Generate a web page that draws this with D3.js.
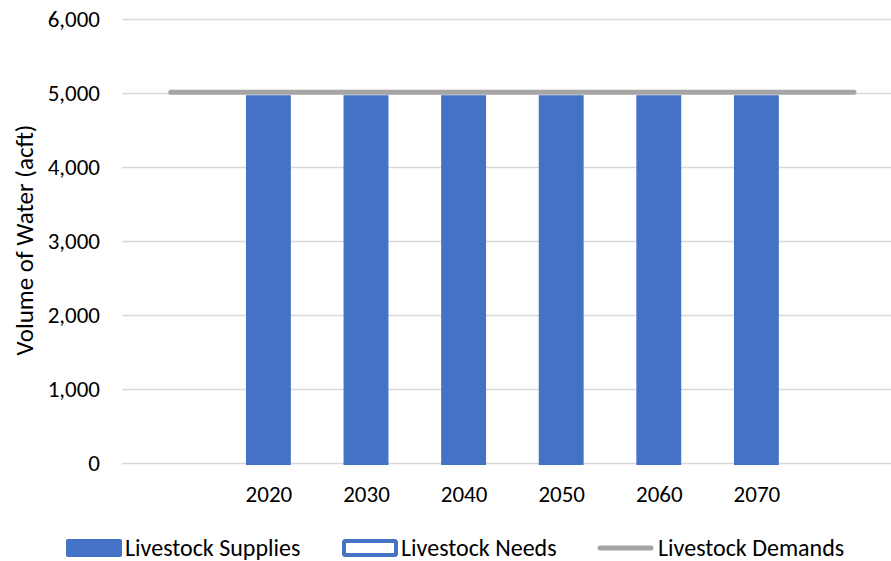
<!DOCTYPE html>
<html>
<head>
<meta charset="utf-8">
<script src="https://cdn.jsdelivr.net/npm/d3@7/dist/d3.min.js"></script>
<style>
  html, body { margin: 0; padding: 0; background: #fff; }
  svg { display: block; font-family: Carlito, Calibri, Lato, "Liberation Sans", sans-serif; }
</style>
</head>
<body>
<svg id="chart" width="891" height="561"></svg>
<script>
// Category slots: the outer two are unlabeled padding slots the demand line spans
const categories = ["pad-start", "2020", "2030", "2040", "2050", "2060", "2070", "pad-end"];
const categoryLabels = ["", "2020", "2030", "2040", "2050", "2060", "2070", ""];
const supplies = [null, 4970, 4970, 4970, 4970, 4970, 4970, null];
const needs = [null, 0, 0, 0, 0, 0, 0, null];
const demands = [5010, 5010, 5010, 5010, 5010, 5010, 5010, 5010];
const yTicks = [0, 1000, 2000, 3000, 4000, 5000, 6000];
const legendItems = ["Livestock Supplies", "Livestock Needs", "Livestock Demands"];

const svg = d3.select("#chart");
const plotLeft = 122, plotTop = 19, plotBottom = 463;
const step = 97.6;
const fontStack = "Carlito, Calibri, Lato, 'Liberation Sans', sans-serif";

const x = d3.scaleBand()
  .domain(categories)
  .range([plotLeft, plotLeft + step * categories.length])
  .paddingInner(0.54)
  .paddingOuter(0.27);

const xc = d3.scalePoint()
  .domain(categories)
  .range([plotLeft + step / 2, plotLeft + step * (categories.length - 0.5)]);

const y = d3.scaleLinear().domain([0, 6000]).range([plotBottom, plotTop]);

// Horizontal gridlines
svg.append("g")
  .selectAll("line")
  .data(yTicks)
  .join("line")
  .attr("x1", plotLeft).attr("x2", 891)
  .attr("y1", d => Math.round(y(d)) + 0.5).attr("y2", d => Math.round(y(d)) + 0.5)
  .attr("stroke", "#D9D9D9").attr("stroke-width", 1.3);

// Y axis tick labels
const yAxis = d3.axisLeft(y).tickValues(yTicks).tickFormat(d3.format(",")).tickSize(0).tickPadding(0);
svg.append("g")
  .attr("transform", `translate(${plotLeft - 22},0)`)
  .call(yAxis)
  .call(g => g.select(".domain").remove())
  .call(g => g.selectAll("text")
    .attr("font-size", 23).attr("fill", "#000")
    .style("font-family", fontStack));

// Y axis title
svg.append("text")
  .attr("transform", `translate(33,240) rotate(-90)`)
  .attr("text-anchor", "middle")
  .attr("font-size", 25)
  .attr("fill", "#000")
  .text("Volume of Water (acft)");

// Supplies bars
const bw = x.bandwidth();
svg.append("g")
  .selectAll("rect")
  .data(categories.map((c, i) => ({ c, v: supplies[i] })).filter(d => d.v != null))
  .join("rect")
  .attr("x", d => x(d.c))
  .attr("y", d => y(d.v))
  .attr("width", bw)
  .attr("height", d => y(0) - y(d.v))
  .attr("fill", "#4472C4");

// Needs bars (stacked on top of supplies, zero height here)
svg.append("g")
  .selectAll("rect")
  .data(categories.map((c, i) => ({ c, v: needs[i] })).filter(d => d.v != null))
  .join("rect")
  .attr("x", d => x(d.c) + 0.5)
  .attr("y", d => y(0) + 0.5)
  .attr("width", bw - 1)
  .attr("height", d => Math.max(y(0) - y(d.v), 1))
  .attr("fill", "#fff")
  .attr("stroke", "#4472C4")
  .attr("stroke-width", 1);

// Demands line
svg.append("path")
  .datum(categories.map((c, i) => ({ c, v: demands[i] })))
  .attr("d", d3.line().x(d => xc(d.c)).y(d => y(d.v)))
  .attr("fill", "none")
  .attr("stroke", "#A5A5A5")
  .attr("stroke-width", 5)
  .attr("stroke-linecap", "round");

// X axis labels
const xAxis = d3.axisBottom(xc).tickFormat((d, i) => categoryLabels[i]).tickSize(0).tickPadding(0);
svg.append("g")
  .attr("transform", `translate(0,${plotBottom + 23})`)
  .call(xAxis)
  .call(g => g.select(".domain").remove())
  .call(g => g.selectAll("text")
    .attr("dy", "0.71em")
    .attr("font-size", 23).attr("fill", "#000")
    .style("font-family", fontStack));

// Legend
const legendX = [66, 342, 598];
const lg = svg.append("g").attr("transform", "translate(0,548)");
const item = lg.selectAll("g").data(legendItems).join("g")
  .attr("transform", (d, i) => `translate(${legendX[i]},0)`);
item.each(function (d, i) {
  const g = d3.select(this);
  if (i === 0) {
    g.append("rect").attr("x", 0).attr("y", -9).attr("width", 56).attr("height", 18).attr("rx", 2)
      .attr("fill", "#4472C4");
  } else if (i === 1) {
    g.append("rect").attr("x", 2).attr("y", -7).attr("width", 52).attr("height", 14).attr("rx", 1.5)
      .attr("fill", "#fff").attr("stroke", "#4472C4").attr("stroke-width", 4);
  } else {
    g.append("line").attr("x1", 2).attr("x2", 53).attr("y1", 0).attr("y2", 0)
      .attr("stroke", "#A5A5A5").attr("stroke-width", 5).attr("stroke-linecap", "round");
  }
  g.append("text").attr("x", i === 2 ? 60 : 59).attr("y", 0).attr("dy", "0.35em")
    .attr("font-size", 24).attr("fill", "#000").text(d);
});
</script>
</body>
</html>
